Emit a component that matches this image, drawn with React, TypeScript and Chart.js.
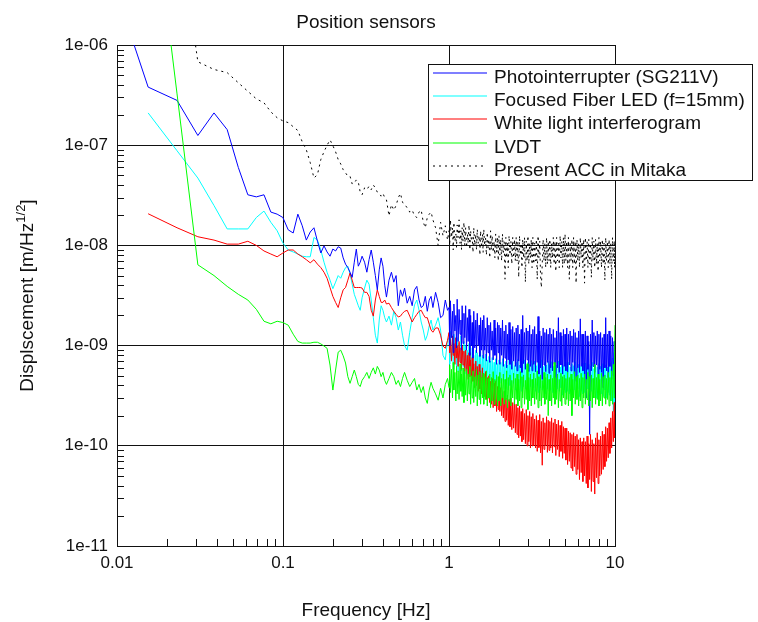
import React, { useEffect, useRef } from 'react';
import { Chart, registerables } from 'chart.js';

Chart.register(...registerables);

// ---------- frequency grid (Hz) ----------
const freqLow = [
  0.0077, 0.0154, 0.023, 0.0307, 0.0384, 0.0461, 0.0538, 0.0614, 0.0691, 0.0768,
  0.0845, 0.0922, 0.0998, 0.1075, 0.1152, 0.1229, 0.1306, 0.1382, 0.1459, 0.1536,
  0.1613, 0.169, 0.1766, 0.1843, 0.192, 0.1997, 0.2074, 0.215, 0.2227, 0.2304,
  0.2381, 0.2458, 0.2534, 0.2611, 0.2688, 0.2765, 0.2842, 0.2918, 0.2995,
];
const freqMid = [
  0.31, 0.32, 0.33, 0.34, 0.35, 0.36, 0.37, 0.38, 0.39, 0.40,
  0.41, 0.42, 0.435, 0.45, 0.465, 0.48, 0.495, 0.51, 0.525, 0.54,
  0.56, 0.58, 0.60, 0.62, 0.64, 0.66, 0.68, 0.70, 0.72, 0.74,
  0.76, 0.78, 0.80, 0.83, 0.86, 0.89, 0.92, 0.95, 0.98,
];
const freqHigh = [
  1.00, 1.01, 1.02, 1.035, 1.05, 1.06, 1.07, 1.085, 1.10, 1.11,
  1.12, 1.135, 1.15, 1.165, 1.18, 1.19, 1.20, 1.215, 1.23, 1.245,
  1.26, 1.275, 1.29, 1.305, 1.32, 1.335, 1.35, 1.365, 1.38, 1.395,
  1.41, 1.43, 1.45, 1.465, 1.48, 1.50, 1.52, 1.535, 1.55, 1.57,
  1.59, 1.605, 1.62, 1.64, 1.66, 1.68, 1.70, 1.72, 1.74, 1.76,
  1.78, 1.80, 1.82, 1.845, 1.87, 1.89, 1.91, 1.935, 1.96, 1.98,
  2.00, 2.025, 2.05, 2.075, 2.10, 2.125, 2.15, 2.175, 2.20, 2.225,
  2.25, 2.275, 2.30, 2.33, 2.36, 2.39, 2.42, 2.45, 2.48, 2.51,
  2.54, 2.57, 2.60, 2.63, 2.66, 2.69, 2.72, 2.75, 2.78, 2.815,
  2.85, 2.885, 2.92, 2.955, 2.99, 3.025, 3.06, 3.095, 3.13, 3.165,
  3.20, 3.24, 3.28, 3.32, 3.36, 3.40, 3.44, 3.48, 3.52, 3.56,
  3.60, 3.645, 3.69, 3.735, 3.78, 3.825, 3.87, 3.915, 3.96, 4.005,
  4.05, 4.10, 4.15, 4.20, 4.25, 4.30, 4.35, 4.40, 4.45, 4.505,
  4.56, 4.615, 4.67, 4.725, 4.78, 4.835, 4.89, 4.945, 5.00, 5.06,
  5.12, 5.18, 5.24, 5.305, 5.37, 5.435, 5.50, 5.565, 5.63, 5.695,
  5.76, 5.83, 5.90, 5.97, 6.04, 6.11, 6.18, 6.255, 6.33, 6.405,
  6.48, 6.555, 6.63, 6.71, 6.79, 6.87, 6.95, 7.035, 7.12, 7.205,
  7.29, 7.375, 7.46, 7.55, 7.64, 7.73, 7.82, 7.91, 8.00, 8.095,
  8.19, 8.29, 8.39, 8.49, 8.59, 8.69, 8.79, 8.895, 9.00, 9.105,
  9.21, 9.32, 9.43, 9.545, 9.66, 9.775, 9.89, 9.945, 10.0,
];

// ---------- Photointerrupter (SG211V) ----------
const photoLow = [
  1.2e-5, 3.8e-7, 2.8e-7, 1.25e-7, 2.1e-7, 1.43e-7, 6e-8, 3.2e-8, 3.05e-8, 3.2e-8,
  2.15e-8, 2.05e-8, 1.9e-8, 1.43e-8, 1.33e-8, 2.05e-8, 1.57e-8, 1.13e-8, 1.36e-8, 1.5e-8,
  1.1e-8, 8.4e-9, 9.9e-9, 8.6e-9, 7.8e-9, 9.2e-9, 8.8e-9, 9.7e-9, 9.4e-9, 7.5e-9,
  6.5e-9, 6.0e-9, 5.4e-9, 4.8e-9, 6.8e-9, 9.2e-9, 6.2e-9, 6.8e-9, 7.8e-9,
];
const photoMid = [
  6.8e-9, 5.4e-9, 7.2e-9, 9.0e-9, 6.8e-9, 5.0e-9, 3.6e-9, 5.7e-9, 7.5e-9, 6.2e-9,
  4.0e-9, 3.05e-9, 4.5e-9, 5.4e-9, 4.3e-9, 5.0e-9, 2.5e-9, 3.6e-9, 3.1e-9, 3.75e-9,
  2.65e-9, 3.1e-9, 2.5e-9, 3.6e-9, 3.9e-9, 2.85e-9, 2.4e-9, 2.5e-9, 3.1e-9, 2.2e-9,
  2.85e-9, 3.1e-9, 2.4e-9, 3.4e-9, 2.7e-9, 1.9e-9, 2.0e-9, 2.85e-9, 2.25e-9,
];
const photoHigh = [
  2.4e-9, 1.0e-9, 2.8e-9, 1.2e-9, 2.2e-9, 8.5e-10, 2.6e-9, 1.4e-9, 2.0e-9, 9.5e-10,
  2.9e-9, 1.1e-9, 2.3e-9, 1.3e-9, 1.8e-9, 9e-10, 2.5e-9, 1.05e-9, 2.1e-9, 1.2e-9,
  2.5e-9, 9e-10, 1.9e-9, 1.1e-9, 2.3e-9, 8e-10, 2.0e-9, 1.0e-9, 1.7e-9, 7.5e-10,
  2.2e-9, 9.5e-10, 1.8e-9, 8.5e-10, 2.1e-9, 1.0e-9, 1.6e-9, 7.8e-10, 1.9e-9, 9e-10,
  1.8e-9, 7.5e-10, 2.0e-9, 9e-10, 1.5e-9, 7e-10, 1.9e-9, 8.5e-10, 1.6e-9, 6.8e-10,
  1.7e-9, 9e-10, 1.4e-9, 7.2e-10, 1.8e-9, 8e-10, 1.5e-9, 6.5e-10, 1.7e-9, 8.5e-10,
  1.6e-9, 6.5e-10, 1.5e-9, 8e-10, 1.8e-9, 6.2e-10, 1.4e-9, 7.5e-10, 1.6e-9, 6e-10,
  1.3e-9, 7.2e-10, 1.7e-9, 6.5e-10, 1.45e-9, 5.8e-10, 1.55e-9, 7e-10, 1.35e-9, 6.2e-10,
  1.5e-9, 5.6e-10, 1.6e-9, 7e-10, 1.3e-9, 6e-10, 1.45e-9, 5.4e-10, 2.0e-9, 6.6e-10,
  1.35e-9, 5.8e-10, 1.5e-9, 7.2e-10, 1.4e-9, 5.5e-10, 1.6e-9, 6.2e-10, 1.3e-9, 5.6e-10,
  1.45e-9, 6.5e-10, 1.55e-9, 5.5e-10, 1.3e-9, 6.8e-10, 1.95e-9, 5.2e-10, 1.4e-9, 6e-10,
  1.25e-9, 4.6e-10, 1.5e-9, 6.4e-10, 1.35e-9, 5.5e-10, 1.45e-9, 6.8e-10, 1.3e-9, 5.3e-10,
  1.5e-9, 6e-10, 1.3e-9, 5.6e-10, 1.45e-9, 6.6e-10, 1.2e-9, 3.4e-10, 1.4e-9, 6e-10,
  1.9e-9, 5.4e-10, 1.35e-9, 6.4e-10, 1.25e-9, 5.2e-10, 1.45e-9, 6.2e-10, 1.3e-9, 5.6e-10,
  1.5e-9, 5.4e-10, 1.3e-9, 6.4e-10, 1.4e-9, 5.6e-10, 1.25e-9, 6.8e-10, 1.45e-9, 5.2e-10,
  1.35e-9, 4.4e-10, 1.2e-9, 6e-10, 1.4e-9, 5.4e-10, 1.85e-9, 6.2e-10, 1.3e-9, 5.6e-10,
  1.3e-9, 5.2e-10, 1.4e-9, 3e-10, 1.25e-9, 5.8e-10, 1.1e-9, 1.3e-10, 1.3e-9, 5.6e-10,
  1.8e-9, 6.2e-10, 1.35e-9, 5.4e-10, 1.25e-9, 6.4e-10, 1.4e-9, 5.2e-10, 1.3e-9, 5.8e-10,
  1.35e-9, 5.4e-10, 1.2e-9, 3.8e-10, 1.3e-9, 6e-10, 1.9e-9, 5.6e-10, 1.3e-9, 4.8e-10,
  1.4e-9, 6.2e-10, 1.25e-9, 4.6e-10, 1.2e-9, 5e-10, 1.1e-9, 3.3e-10, 4.2e-10,
];

// ---------- Focused Fiber LED (f=15mm) ----------
const fiberLow = [
  null, 2.1e-7, 8.8e-8, 4.7e-8, 2.5e-8, 1.46e-8, 1.46e-8, 1.46e-8, 1.9e-8, 2.2e-8,
  1.7e-8, 1.4e-8, 1.06e-8, 9e-9, 8.6e-9, 8.2e-9, 7.8e-9, 7.7e-9, 7.7e-9, 1.2e-8,
  1.13e-8, 9e-9, 6.8e-9, 5.4e-9, 4.5e-9, 3.7e-9, 4.3e-9, 5.0e-9, 4.7e-9, 5.4e-9,
  6.0e-9, 6.2e-9, 5.2e-9, 4.1e-9, 3.25e-9, 2.85e-9, 2.5e-9, 2.25e-9, 3.0e-9,
];
const fiberMid = [
  3.75e-9, 4.5e-9, 4.1e-9, 2.85e-9, 1.9e-9, 1.27e-9, 1.06e-9, 1.8e-9, 2.5e-9, 2.25e-9,
  1.9e-9, 1.72e-9, 1.97e-9, 1.6e-9, 2.2e-9, 1.9e-9, 1.43e-9, 1.72e-9, 1.27e-9, 1.0e-9,
  9.0e-10, 1.36e-9, 1.9e-9, 2.55e-9, 2.85e-9, 2.25e-9, 1.72e-9, 1.43e-9, 1.13e-9, 1.27e-9,
  1.57e-9, 1.8e-9, 1.43e-9, 1.6e-9, 1.9e-9, 1.43e-9, 8.0e-10, 7.2e-10, 1.13e-9,
];
const fiberHigh = [
  1.2e-9, 6.5e-10, 1.4e-9, 7e-10, 1.1e-9, 5.8e-10, 1.3e-9, 7.5e-10, 1.0e-9, 6e-10,
  1.2e-9, 5.5e-10, 1.05e-9, 6.8e-10, 1.25e-9, 5.6e-10, 9.5e-10, 6.2e-10, 1.1e-9, 5.2e-10,
  1.0e-9, 5.8e-10, 9e-10, 5e-10, 1.05e-9, 6e-10, 8.5e-10, 4.8e-10, 9.5e-10, 5.5e-10,
  8e-10, 4.6e-10, 9e-10, 5.2e-10, 8.5e-10, 4.5e-10, 8e-10, 5e-10, 8.8e-10, 4.4e-10,
  8e-10, 4.8e-10, 7.5e-10, 4.2e-10, 8.2e-10, 4.6e-10, 7.2e-10, 4e-10, 7.8e-10, 4.5e-10,
  7e-10, 3.9e-10, 7.6e-10, 4.3e-10, 6.8e-10, 4e-10, 7.4e-10, 4.4e-10, 6.6e-10, 3.8e-10,
  7.2e-10, 4.2e-10, 6.8e-10, 3.8e-10, 7.4e-10, 4.4e-10, 6.5e-10, 3.7e-10, 7e-10, 4.1e-10,
  6.4e-10, 3.6e-10, 7.2e-10, 4e-10, 6.6e-10, 3.8e-10, 7e-10, 4.2e-10, 6.3e-10, 3.6e-10,
  6.8e-10, 4e-10, 7.3e-10, 3.6e-10, 6.4e-10, 4.2e-10, 7e-10, 3.5e-10, 6.6e-10, 3.9e-10,
  7.2e-10, 3.7e-10, 6.3e-10, 4.1e-10, 6.9e-10, 3.4e-10, 6.5e-10, 3.9e-10, 7.1e-10, 3.6e-10,
  6.6e-10, 3.8e-10, 7e-10, 3.5e-10, 6.3e-10, 4e-10, 6.9e-10, 3.4e-10, 6.5e-10, 3.8e-10,
  7.2e-10, 3.6e-10, 6.2e-10, 3.9e-10, 6.8e-10, 3.3e-10, 6.4e-10, 3.7e-10, 7e-10, 3.5e-10,
  6.5e-10, 3.6e-10, 6.9e-10, 3.4e-10, 6.2e-10, 3.9e-10, 6.7e-10, 3.3e-10, 6.4e-10, 3.7e-10,
  7e-10, 3.5e-10, 6.1e-10, 3.8e-10, 6.6e-10, 3.2e-10, 6.3e-10, 3.6e-10, 6.8e-10, 3.4e-10,
  6.4e-10, 3.5e-10, 6.8e-10, 3.3e-10, 6.1e-10, 3.8e-10, 6.6e-10, 3.2e-10, 6.3e-10, 3.6e-10,
  6.9e-10, 3.4e-10, 6e-10, 3.7e-10, 6.5e-10, 3.1e-10, 6.2e-10, 3.5e-10, 6.7e-10, 3.3e-10,
  6.3e-10, 3.4e-10, 6.7e-10, 3.2e-10, 6e-10, 3.7e-10, 6.5e-10, 3.1e-10, 6.2e-10, 3.5e-10,
  6.8e-10, 3.3e-10, 5.9e-10, 3.6e-10, 6.4e-10, 3e-10, 6.1e-10, 3.4e-10, 6.6e-10, 3.2e-10,
  6.2e-10, 3.3e-10, 6.6e-10, 3.1e-10, 5.9e-10, 3.6e-10, 6.4e-10, 3e-10, 6.1e-10, 3.4e-10,
  6.7e-10, 3.2e-10, 5.8e-10, 2.8e-10, 7.5e-10, 2.2e-10, 8.5e-10, 1.8e-10, 6e-10,
];

// ---------- White light interferogram ----------
const whiteLow = [
  null, 2.07e-8, 1.5e-8, 1.22e-8, 1.13e-8, 1.03e-8, 1.03e-8, 1.1e-8, 1.0e-8, 8.8e-9,
  8.2e-9, 7.7e-9, 8.4e-9, 9e-9, 9e-9, 8.2e-9, 7.7e-9, 7.2e-9, 6.7e-9, 7.2e-9,
  6.5e-9, 6.0e-9, 5.4e-9, 4.7e-9, 3.8e-9, 3.1e-9, 2.7e-9, 2.4e-9, 3.0e-9, 3.6e-9,
  3.8e-9, 4.5e-9, 5.3e-9, 4.5e-9, 3.8e-9, 3.8e-9, 3.8e-9, 3.8e-9, 3.75e-9,
];
const whiteMid = [
  3.4e-9, 3.4e-9, 3.1e-9, 2.25e-9, 1.97e-9, 2.85e-9, 3.6e-9, 3.1e-9, 2.7e-9, 2.7e-9,
  2.85e-9, 2.6e-9, 2.65e-9, 2.4e-9, 2.2e-9, 2.05e-9, 1.93e-9, 1.97e-9, 2.1e-9, 2.2e-9,
  2.25e-9, 1.97e-9, 1.72e-9, 1.9e-9, 2.05e-9, 2.2e-9, 2.25e-9, 2.05e-9, 1.9e-9, 1.9e-9,
  1.64e-9, 1.43e-9, 1.36e-9, 1.5e-9, 1.5e-9, 1.27e-9, 9.9e-10, 9.4e-10, 1.13e-9,
];
const whiteHigh = [
  1.35e-9, 8.5e-10, 1.15e-9, 7e-10, 1.25e-9, 8e-10, 1.05e-9, 6.5e-10, 1.2e-9, 7.5e-10,
  1.0e-9, 6.2e-10, 1.1e-9, 6.8e-10, 9.5e-10, 5.8e-10, 1.0e-9, 6.4e-10, 8.8e-10, 5.5e-10,
  9e-10, 5.2e-10, 8e-10, 4.6e-10, 8.5e-10, 4.9e-10, 7.2e-10, 4.2e-10, 7.6e-10, 4.4e-10,
  6.6e-10, 3.8e-10, 7e-10, 4e-10, 6.2e-10, 3.5e-10, 6.5e-10, 3.7e-10, 5.6e-10, 3.3e-10,
  6e-10, 3.4e-10, 5.2e-10, 3.1e-10, 5.5e-10, 2.9e-10, 4.8e-10, 3.0e-10, 5e-10, 2.7e-10,
  4.4e-10, 2.6e-10, 4.7e-10, 2.4e-10, 4.2e-10, 2.5e-10, 4.4e-10, 2.2e-10, 3.9e-10, 2.3e-10,
  3.6e-10, 2.2e-10, 3.8e-10, 2.0e-10, 3.3e-10, 1.9e-10, 3.5e-10, 1.75e-10, 3.0e-10, 1.8e-10,
  3.2e-10, 1.6e-10, 2.9e-10, 1.55e-10, 3.0e-10, 1.45e-10, 2.7e-10, 1.5e-10, 2.8e-10, 1.35e-10,
  2.6e-10, 1.3e-10, 2.4e-10, 1.2e-10, 2.5e-10, 1.25e-10, 2.2e-10, 1.1e-10, 2.35e-10, 1.15e-10,
  2.1e-10, 1.05e-10, 2.3e-10, 1.0e-10, 2.0e-10, 1.1e-10, 2.2e-10, 9.5e-11, 1.95e-10, 1.0e-10,
  2.1e-10, 1.0e-10, 1.85e-10, 9.5e-11, 2.0e-10, 8.8e-11, 1.8e-10, 9.6e-11, 2.05e-10, 8.5e-11,
  1.75e-10, 6.4e-11, 1.9e-10, 9.2e-11, 1.7e-10, 1.0e-10, 1.95e-10, 8.6e-11, 1.8e-10, 9e-11,
  1.75e-10, 9.5e-11, 1.9e-10, 8.5e-11, 1.7e-10, 9.8e-11, 1.85e-10, 8e-11, 1.65e-10, 9.2e-11,
  1.8e-10, 7.8e-11, 1.6e-10, 8.8e-11, 1.75e-10, 7.5e-11, 1.55e-10, 8.4e-11, 1.5e-10, 7.2e-11,
  1.5e-10, 6.5e-11, 1.4e-10, 7e-11, 1.35e-10, 6e-11, 1.3e-10, 5.6e-11, 1.35e-10, 6.2e-11,
  1.25e-10, 5.2e-11, 1.3e-10, 5.8e-11, 1.15e-10, 4.6e-11, 1.2e-10, 5.4e-11, 1.1e-10, 4.4e-11,
  1.2e-10, 5e-11, 1.1e-10, 4.2e-11, 1.25e-10, 3.8e-11, 1.05e-10, 4.6e-11, 1.3e-10, 3.5e-11,
  1.15e-10, 4.4e-11, 1.05e-10, 3.3e-11, 1.2e-10, 4.8e-11, 1.35e-10, 4.2e-11, 1.15e-10, 5e-11,
  1.25e-10, 5.2e-11, 1.4e-10, 5.8e-11, 1.3e-10, 6.2e-11, 1.55e-10, 7e-11, 1.5e-10, 7.6e-11,
  1.7e-10, 8.4e-11, 1.9e-10, 9.5e-11, 2.2e-10, 1.1e-10, 2.7e-10, 1.2e-10, 1.6e-10,
];

// ---------- LVDT ----------
const lvdtLow = [
  null, 7.4e-5, 3.25e-7, 6.4e-9, 5.0e-9, 3.9e-9, 3.25e-9, 2.85e-9, 2.3e-9, 1.75e-9,
  1.65e-9, 1.75e-9, 1.7e-9, 1.6e-9, 1.3e-9, 1.1e-9, 1.06e-9, 1.06e-9, 1.06e-9, 1.08e-9,
  1.08e-9, 1.04e-9, 9.9e-10, 9.4e-10, 6.4e-10, 3.6e-10, 5.7e-10, 8.6e-10, 9e-10, 7.9e-10,
  6.7e-10, 4.9e-10, 4.2e-10, 4.9e-10, 5.7e-10, 4.9e-10, 4.1e-10, 3.9e-10, 4.5e-10,
];
const lvdtMid = [
  4.9e-10, 5.4e-10, 4.7e-10, 5.4e-10, 6.0e-10, 5.2e-10, 6.2e-10, 5.7e-10, 4.9e-10, 5.4e-10,
  4.5e-10, 4.1e-10, 4.7e-10, 5.4e-10, 4.9e-10, 4.1e-10, 4.5e-10, 3.9e-10, 4.7e-10, 5.4e-10,
  4.5e-10, 3.9e-10, 4.3e-10, 4.7e-10, 3.6e-10, 4.1e-10, 3.4e-10, 3.9e-10, 3.0e-10, 2.65e-10,
  3.6e-10, 4.3e-10, 3.75e-10, 3.3e-10, 2.85e-10, 3.75e-10, 3.0e-10, 4.1e-10, 4.7e-10,
];
const lvdtHigh = [
  3.8e-10, 6.4e-10, 3.4e-10, 5.8e-10, 3.0e-10, 6.8e-10, 3.6e-10, 5.4e-10, 2.8e-10, 6.2e-10,
  3.3e-10, 5.6e-10, 2.9e-10, 6.6e-10, 3.5e-10, 5.2e-10, 3.1e-10, 6e-10, 2.7e-10, 5.5e-10,
  3.2e-10, 5.8e-10, 2.8e-10, 5.2e-10, 3.3e-10, 6.2e-10, 2.6e-10, 5e-10, 3.0e-10, 5.6e-10,
  2.7e-10, 4.9e-10, 3.1e-10, 5.8e-10, 2.5e-10, 5.1e-10, 2.9e-10, 5.5e-10, 2.6e-10, 4.8e-10,
  3.0e-10, 5.3e-10, 2.6e-10, 4.9e-10, 2.9e-10, 5.6e-10, 2.5e-10, 4.7e-10, 3.0e-10, 5.2e-10,
  2.4e-10, 4.8e-10, 2.8e-10, 5.5e-10, 2.6e-10, 4.6e-10, 2.9e-10, 5.1e-10, 2.5e-10, 4.9e-10,
  2.8e-10, 5.4e-10, 2.5e-10, 4.7e-10, 3.0e-10, 5.2e-10, 2.6e-10, 4.6e-10, 2.9e-10, 5.6e-10,
  2.4e-10, 4.8e-10, 2.8e-10, 5.1e-10, 2.5e-10, 4.5e-10, 3.0e-10, 5.3e-10, 2.6e-10, 4.7e-10,
  2.9e-10, 5.2e-10, 2.5e-10, 4.6e-10, 2.8e-10, 5.5e-10, 2.4e-10, 4.9e-10, 3.0e-10, 5.1e-10,
  2.6e-10, 4.5e-10, 2.9e-10, 6.6e-10, 2.3e-10, 4.8e-10, 2.8e-10, 5.2e-10, 2.5e-10, 4.6e-10,
  3.0e-10, 5.3e-10, 2.6e-10, 4.7e-10, 2.9e-10, 5.6e-10, 2.4e-10, 4.9e-10, 2.8e-10, 5.1e-10,
  2.5e-10, 4.5e-10, 3.0e-10, 5.4e-10, 2.6e-10, 4.8e-10, 2.9e-10, 5.2e-10, 2.0e-10, 4.6e-10,
  2.8e-10, 5.1e-10, 2.5e-10, 4.7e-10, 3.0e-10, 6.8e-10, 2.6e-10, 4.8e-10, 2.9e-10, 5.2e-10,
  2.4e-10, 4.6e-10, 2.8e-10, 5.3e-10, 2.5e-10, 4.9e-10, 3.0e-10, 5.1e-10, 2.6e-10, 4.7e-10,
  2.9e-10, 5.4e-10, 2.5e-10, 4.8e-10, 2.8e-10, 5.2e-10, 2.0e-10, 4.6e-10, 3.0e-10, 5.5e-10,
  2.6e-10, 4.9e-10, 2.9e-10, 5.1e-10, 2.5e-10, 4.7e-10, 2.8e-10, 5.3e-10, 2.4e-10, 4.8e-10,
  3.0e-10, 5.2e-10, 2.6e-10, 4.6e-10, 2.9e-10, 5.4e-10, 2.5e-10, 4.9e-10, 2.8e-10, 5.1e-10,
  2.4e-10, 4.7e-10, 3.0e-10, 6.5e-10, 2.6e-10, 4.8e-10, 2.9e-10, 5.2e-10, 2.5e-10, 4.6e-10,
  2.8e-10, 5.3e-10, 2.5e-10, 4.9e-10, 3.0e-10, 5.1e-10, 2.6e-10, 4.7e-10, 2.9e-10, 5.4e-10,
  2.5e-10, 4.8e-10, 2.8e-10, 5.6e-10, 2.6e-10, 6.5e-10, 3.0e-10, 9e-10, 1.6e-9,
];

// ---------- Present ACC in Mitaka ----------
const accLow = [
  null, null, 2e-5, 6.8e-7, 5.7e-7, 5.3e-7, 4.2e-7, 3.45e-7, 2.9e-7, 2.65e-7,
  2.15e-7, 1.88e-7, 1.75e-7, 1.68e-7, 1.53e-7, 1.4e-7, 1.08e-7, 9e-8, 6.7e-8, 4.7e-8,
  5.1e-8, 7.2e-8, 8.6e-8, 1.0e-7, 1.13e-7, 9.9e-8, 8.6e-8, 7.2e-8, 6.5e-8, 5.7e-8,
  5.3e-8, 4.9e-8, 4.9e-8, 4.1e-8, 4.2e-8, 4.5e-8, 4.3e-8, 3.4e-8, 3.2e-8,
];
const accMid = [
  3.75e-8, 3.6e-8, 3.9e-8, 3.6e-8, 4.0e-8, 3.75e-8, 3.4e-8, 3.3e-8, 3.1e-8, 3.3e-8,
  3.0e-8, 2.85e-8, 1.97e-8, 2.55e-8, 2.25e-8, 2.5e-8, 3.0e-8, 3.3e-8, 2.7e-8, 2.5e-8,
  2.4e-8, 2.15e-8, 2.25e-8, 1.97e-8, 1.9e-8, 2.15e-8, 2.25e-8, 1.7e-8, 1.5e-8, 1.9e-8,
  2.05e-8, 2.15e-8, 1.8e-8, 1.5e-8, 1.0e-8, 1.7e-8, 1.25e-8, 1.57e-8, 1.13e-8,
];
const accHigh = [
  1.4e-8, 1.0e-8, 1.8e-8, 1.2e-8, 1.5e-8, 9e-9, 1.7e-8, 1.1e-8, 1.3e-8, 9.5e-9,
  1.6e-8, 1.2e-8, 1.8e-8, 1.05e-8, 1.4e-8, 9e-9, 1.5e-8, 1.1e-8, 1.7e-8, 1.0e-8,
  1.5e-8, 9.5e-9, 1.3e-8, 1.05e-8, 1.6e-8, 9e-9, 1.4e-8, 1.1e-8, 1.2e-8, 8.5e-9,
  1.5e-8, 1.0e-8, 1.3e-8, 9e-9, 1.45e-8, 1.05e-8, 1.25e-8, 8e-9, 1.4e-8, 9.5e-9,
  1.3e-8, 8.5e-9, 1.45e-8, 1.0e-8, 1.2e-8, 8e-9, 1.35e-8, 9.5e-9, 1.15e-8, 7.5e-9,
  1.4e-8, 9e-9, 1.25e-8, 8.5e-9, 1.1e-8, 7.5e-9, 1.3e-8, 8.5e-9, 1.2e-8, 7e-9,
  1.25e-8, 8e-9, 1.15e-8, 7e-9, 1.3e-8, 8.5e-9, 1.1e-8, 4.6e-9, 1.2e-8, 7.5e-9,
  1.05e-8, 6e-9, 1.25e-8, 8e-9, 1.1e-8, 6.5e-9, 1.2e-8, 7.5e-9, 1.15e-8, 7e-9,
  1.2e-8, 7e-9, 1.1e-8, 4.8e-9, 1.25e-8, 8e-9, 1.05e-8, 6e-9, 1.15e-8, 7.5e-9,
  1.2e-8, 4.3e-9, 1.1e-8, 7e-9, 1.25e-8, 6.5e-9, 1.05e-8, 7.5e-9, 1.15e-8, 6e-9,
  1.2e-8, 6.5e-9, 1.05e-8, 7e-9, 1.15e-8, 4.6e-9, 1.25e-8, 7.5e-9, 1.1e-8, 5e-9,
  3.8e-9, 6.5e-9, 1.15e-8, 7e-9, 1.05e-8, 6e-9, 1.2e-8, 6.5e-9, 1.1e-8, 7e-9,
  1.15e-8, 6e-9, 1.05e-8, 7.5e-9, 1.2e-8, 6.5e-9, 1.1e-8, 5.5e-9, 1.2e-8, 7e-9,
  1.05e-8, 6e-9, 1.25e-8, 7.5e-9, 1.1e-8, 6e-9, 1.2e-8, 6.5e-9, 1.3e-8, 7e-9,
  1.1e-8, 6e-9, 1.2e-8, 4.6e-9, 1.05e-8, 7e-9, 1.15e-8, 6e-9, 1.2e-8, 6.5e-9,
  1.1e-8, 4.2e-9, 1.15e-8, 7e-9, 1.05e-8, 6e-9, 1.2e-8, 7.5e-9, 1.1e-8, 6e-9,
  1.15e-8, 4.2e-9, 1.2e-8, 7e-9, 1.1e-8, 6e-9, 1.15e-8, 6.5e-9, 1.05e-8, 4.8e-9,
  1.2e-8, 7e-9, 1.1e-8, 6e-9, 1.15e-8, 6.5e-9, 1.05e-8, 5.5e-9, 1.2e-8, 7e-9,
  1.1e-8, 6e-9, 1.15e-8, 6.5e-9, 1.05e-8, 4.5e-9, 1.2e-8, 7e-9, 1.1e-8, 6e-9,
  1.15e-8, 6.5e-9, 1.05e-8, 4.6e-9, 1.2e-8, 7e-9, 1.1e-8, 6e-9, 1.1e-8,
];

// ---------- axes / text ----------
const xMajorTicks = [0.01, 0.1, 1, 10];
const xTickLabels = ['0.01', '0.1', '1', '10'];
const yMajorTicks = [1e-11, 1e-10, 1e-9, 1e-8, 1e-7, 1e-6];
const yTickLabels = ['1e-11', '1e-10', '1e-09', '1e-08', '1e-07', '1e-06'];
const minorMultipliers = [2, 3, 4, 5, 6, 7, 8, 9];

const chartTitle = 'Position sensors';
const xAxisTitle = 'Frequency [Hz]';
const yAxisTitleMain = 'Displscement [m/Hz';
const yAxisTitleSup = '1/2';
const yAxisTitleEnd = ']';

const seriesLabels = [
  'Photointerrupter (SG211V)',
  'Focused Fiber LED (f=15mm)',
  'White light interferogram',
  'LVDT',
  'Present ACC in Mitaka',
];
const seriesColors = ['#0000ff', '#00ffff', '#ff0000', '#00ff00', '#000000'];

const FONT = '"Liberation Sans", Arial, Helvetica, sans-serif';
const INK = '#111';

const freqHz = [...freqLow, ...freqMid, ...freqHigh];

const series = [
  { label: seriesLabels[0], values: [...photoLow, ...photoMid, ...photoHigh], color: seriesColors[0], dash: [] as number[], order: 2 },
  { label: seriesLabels[1], values: [...fiberLow, ...fiberMid, ...fiberHigh], color: seriesColors[1], dash: [] as number[], order: 4 },
  { label: seriesLabels[2], values: [...whiteLow, ...whiteMid, ...whiteHigh], color: seriesColors[2], dash: [] as number[], order: 3 },
  { label: seriesLabels[3], values: [...lvdtLow, ...lvdtMid, ...lvdtHigh], color: seriesColors[3], dash: [] as number[], order: 1 },
  { label: seriesLabels[4], values: [...accLow, ...accMid, ...accHigh], color: seriesColors[4], dash: [2, 4], order: 0 },
];

function majorIndex(v: number, majors: number[]) {
  return majors.findIndex((m) => Math.abs(v / m - 1) < 1e-6);
}
function allTicks(majors: number[]) {
  const out: number[] = [];
  majors.forEach((m, i) => {
    out.push(m);
    if (i < majors.length - 1) minorMultipliers.forEach((k) => out.push(m * k));
  });
  return out;
}

const decorPlugin = {
  id: 'decor',
  beforeDatasetsDraw(chart: any) {
    const { ctx, chartArea: a, scales } = chart;
    ctx.save();
    ctx.strokeStyle = INK;
    ctx.lineWidth = 1;
    ctx.beginPath();
    for (const t of scales.y.ticks) {
      if (majorIndex(t.value, yMajorTicks) >= 0) continue;
      const y = Math.round(scales.y.getPixelForValue(t.value)) + 0.5;
      ctx.moveTo(a.left, y);
      ctx.lineTo(a.left + 7, y);
    }
    for (const t of scales.x.ticks) {
      if (majorIndex(t.value, xMajorTicks) >= 0) continue;
      const x = Math.round(scales.x.getPixelForValue(t.value)) + 0.5;
      ctx.moveTo(x, a.bottom);
      ctx.lineTo(x, a.bottom - 7);
    }
    ctx.stroke();
    ctx.strokeRect(a.left + 0.5, a.top + 0.5, a.right - a.left, a.bottom - a.top);
    ctx.restore();
  },
  afterDraw(chart: any) {
    const { ctx, chartArea: a } = chart;
    const cx = (a.left + a.right) / 2;
    const cy = (a.top + a.bottom) / 2;
    ctx.save();
    ctx.fillStyle = INK;
    ctx.textBaseline = 'alphabetic';
    ctx.textAlign = 'center';
    ctx.font = `19px ${FONT}`;
    ctx.fillText(chartTitle, cx, 28);
    ctx.fillText(xAxisTitle, cx, 616);

    // y-axis title with superscript
    ctx.save();
    ctx.translate(33, cy);
    ctx.rotate(-Math.PI / 2);
    ctx.textAlign = 'left';
    ctx.font = `19px ${FONT}`;
    const w1 = ctx.measureText(yAxisTitleMain).width;
    const w3 = ctx.measureText(yAxisTitleEnd).width;
    ctx.font = `13px ${FONT}`;
    const w2 = ctx.measureText(yAxisTitleSup).width;
    let pos = -(w1 + w2 + w3) / 2;
    ctx.font = `19px ${FONT}`;
    ctx.fillText(yAxisTitleMain, pos, 0);
    pos += w1;
    ctx.font = `13px ${FONT}`;
    ctx.fillText(yAxisTitleSup, pos, -8);
    pos += w2;
    ctx.font = `19px ${FONT}`;
    ctx.fillText(yAxisTitleEnd, pos, 0);
    ctx.restore();

    // legend box
    ctx.fillStyle = '#ffffff';
    ctx.fillRect(428.5, 64.5, 324, 116);
    ctx.strokeStyle = INK;
    ctx.lineWidth = 1;
    ctx.strokeRect(428.5, 64.5, 324, 116);
    ctx.textAlign = 'left';
    ctx.font = `19px ${FONT}`;
    for (let i = 0; i < series.length; i++) {
      const s = series[i];
      const base = 82.5 + i * 23.4;
      const ly = Math.round(base - 10);
      ctx.save();
      ctx.lineWidth = 1.2;
      ctx.strokeStyle = s.color;
      ctx.setLineDash(s.dash);
      ctx.beginPath();
      ctx.moveTo(433, ly);
      ctx.lineTo(487, ly);
      ctx.stroke();
      ctx.restore();
      ctx.fillStyle = INK;
      ctx.fillText(s.label, 494, base);
    }
    ctx.restore();
  },
};

export default function App() {
  const canvasRef = useRef<HTMLCanvasElement | null>(null);

  useEffect(() => {
    const canvas = canvasRef.current;
    if (!canvas) return;
    const chart = new Chart(canvas, {
      type: 'line',
      data: {
        datasets: series.map((s) => ({
          label: s.label,
          data: freqHz.map((f, i) => ({ x: f, y: s.values[i] })),
          borderColor: s.color,
          borderDash: s.dash,
          borderWidth: 1,
          pointRadius: 0,
          fill: false,
          tension: 0,
          spanGaps: false,
          order: s.order,
        })),
      },
      options: {
        responsive: false,
        animation: false,
        devicePixelRatio: 1,
        events: [],
        layout: { padding: { left: 0, top: 45, right: 143, bottom: 0 } },
        plugins: {
          legend: { display: false },
          title: { display: false },
          tooltip: { enabled: false },
        },
        scales: {
          x: {
            type: 'logarithmic',
            min: 0.01,
            max: 10,
            afterBuildTicks: (s: any) => {
              s.ticks = allTicks(xMajorTicks).map((v) => ({ value: v }));
            },
            afterFit: (s: any) => {
              s.height = 76;
            },
            ticks: {
              autoSkip: false,
              maxRotation: 0,
              minRotation: 0,
              padding: 7,
              color: INK,
              font: { family: FONT, size: 17 },
              callback: (v: any) => {
                const i = majorIndex(Number(v), xMajorTicks);
                return i >= 0 ? xTickLabels[i] : '';
              },
            },
            grid: {
              drawTicks: false,
              lineWidth: 1,
              color: (c: any) =>
                c.tick && majorIndex(c.tick.value, xMajorTicks) >= 0 ? INK : 'rgba(0,0,0,0)',
            },
            border: { display: true, color: INK },
          },
          y: {
            type: 'logarithmic',
            min: 1e-11,
            max: 1e-6,
            afterBuildTicks: (s: any) => {
              s.ticks = allTicks(yMajorTicks).map((v) => ({ value: v }));
            },
            afterFit: (s: any) => {
              s.width = 117;
            },
            ticks: {
              autoSkip: false,
              padding: 9,
              color: INK,
              font: { family: FONT, size: 17 },
              callback: (v: any) => {
                const i = majorIndex(Number(v), yMajorTicks);
                return i >= 0 ? yTickLabels[i] : '';
              },
            },
            grid: {
              drawTicks: false,
              lineWidth: 1,
              color: (c: any) =>
                c.tick && majorIndex(c.tick.value, yMajorTicks) >= 0 ? INK : 'rgba(0,0,0,0)',
            },
            border: { display: true, color: INK },
          },
        },
      },
      plugins: [decorPlugin],
    } as any);
    return () => chart.destroy();
  }, []);

  return (
    <div style={{ position: 'absolute', left: 0, top: 0, width: 758, height: 622, background: '#fff' }}>
      <canvas ref={canvasRef} width={758} height={622} style={{ display: 'block', width: 758, height: 622 }} />
    </div>
  );
}
